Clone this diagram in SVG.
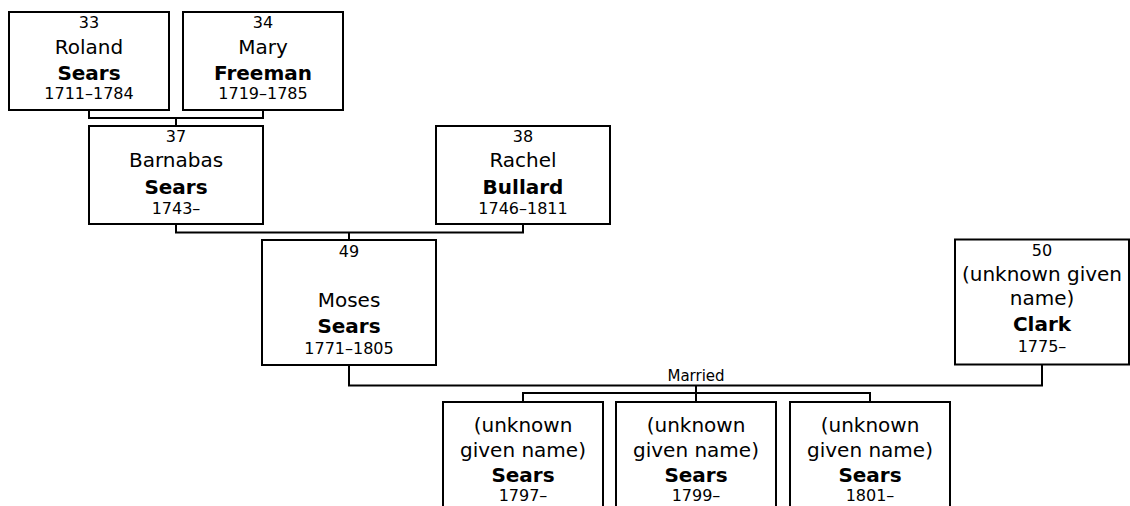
<svg xmlns="http://www.w3.org/2000/svg" width="1130" height="506" viewBox="0 0 1130 506">
<style>
  .box { fill: #ffffff; stroke: #000000; stroke-width: 2; }
  .conn { fill: none; stroke: #000000; stroke-width: 2; }
  text { font-family: "DejaVu Sans", Verdana, sans-serif; fill: #000000; text-anchor: middle; }
  .num { font-size: 16px; }
  .given { font-size: 20px; }
  .sur { font-size: 20px; font-weight: bold; }
  .date { font-size: 16px; }
  .lbl { font-size: 15px; }
</style>
<rect width="1130" height="506" fill="#ffffff"/>
<g id="connectors">
  <path class="conn" d="M89 110 V118 H263 V110 M176 118 V126"/>
  <path class="conn" d="M176 224 V232.5 H523 V224 M349 232.5 V240"/>
  <path class="conn" d="M349 365 V385.5 H1042 V364.5"/>
  <path class="conn" d="M696 385.5 V393 M523 402 V393 H870 V402 M696 393 V402"/>
  <text class="lbl" x="696" y="381">Married</text>
</g>
<g id="n33">
  <rect class="box" x="9" y="12" width="160" height="98"/>
  <text class="num" x="89" y="27.5">33</text>
  <text class="given" x="89" y="53.5">Roland</text>
  <text class="sur" x="89" y="79.5">Sears</text>
  <text class="date" x="89" y="99">1711–1784</text>
</g>
<g id="n34">
  <rect class="box" x="183" y="12" width="160" height="98"/>
  <text class="num" x="263" y="27.5">34</text>
  <text class="given" x="263" y="53.5">Mary</text>
  <text class="sur" x="263" y="79.5">Freeman</text>
  <text class="date" x="263" y="99">1719–1785</text>
</g>
<g id="n37">
  <rect class="box" x="89" y="126" width="174" height="98"/>
  <text class="num" x="176" y="141.5">37</text>
  <text class="given" x="176" y="167">Barnabas</text>
  <text class="sur" x="176" y="193.5">Sears</text>
  <text class="date" x="176" y="213.5">1743–</text>
</g>
<g id="n38">
  <rect class="box" x="436" y="126" width="174" height="98"/>
  <text class="num" x="523" y="141.5">38</text>
  <text class="given" x="523" y="167">Rachel</text>
  <text class="sur" x="523" y="193.5">Bullard</text>
  <text class="date" x="523" y="213.5">1746–1811</text>
</g>
<g id="n49">
  <rect class="box" x="262" y="240" width="174" height="125"/>
  <text class="num" x="349" y="256.5">49</text>
  <text class="given" x="349" y="307">Moses</text>
  <text class="sur" x="349" y="333">Sears</text>
  <text class="date" x="349" y="353.5">1771–1805</text>
</g>
<g id="n50">
  <rect class="box" x="955" y="239.5" width="174" height="125"/>
  <text class="num" x="1042" y="255.5">50</text>
  <text class="given" x="1042" y="280.5">(unknown given</text>
  <text class="given" x="1042" y="304.5">name)</text>
  <text class="sur" x="1042" y="330.5">Clark</text>
  <text class="date" x="1042" y="352">1775–</text>
</g>
<g id="c1">
  <rect class="box" x="443" y="402" width="160" height="130"/>
  <text class="given" x="523" y="431.5">(unknown</text>
  <text class="given" x="523" y="457">given name)</text>
  <text class="sur" x="523" y="482">Sears</text>
  <text class="date" x="523" y="501">1797–</text>
</g>
<g id="c2">
  <rect class="box" x="616" y="402" width="160" height="130"/>
  <text class="given" x="696" y="431.5">(unknown</text>
  <text class="given" x="696" y="457">given name)</text>
  <text class="sur" x="696" y="482">Sears</text>
  <text class="date" x="696" y="501">1799–</text>
</g>
<g id="c3">
  <rect class="box" x="790" y="402" width="160" height="130"/>
  <text class="given" x="870" y="431.5">(unknown</text>
  <text class="given" x="870" y="457">given name)</text>
  <text class="sur" x="870" y="482">Sears</text>
  <text class="date" x="870" y="501">1801–</text>
</g>
</svg>
